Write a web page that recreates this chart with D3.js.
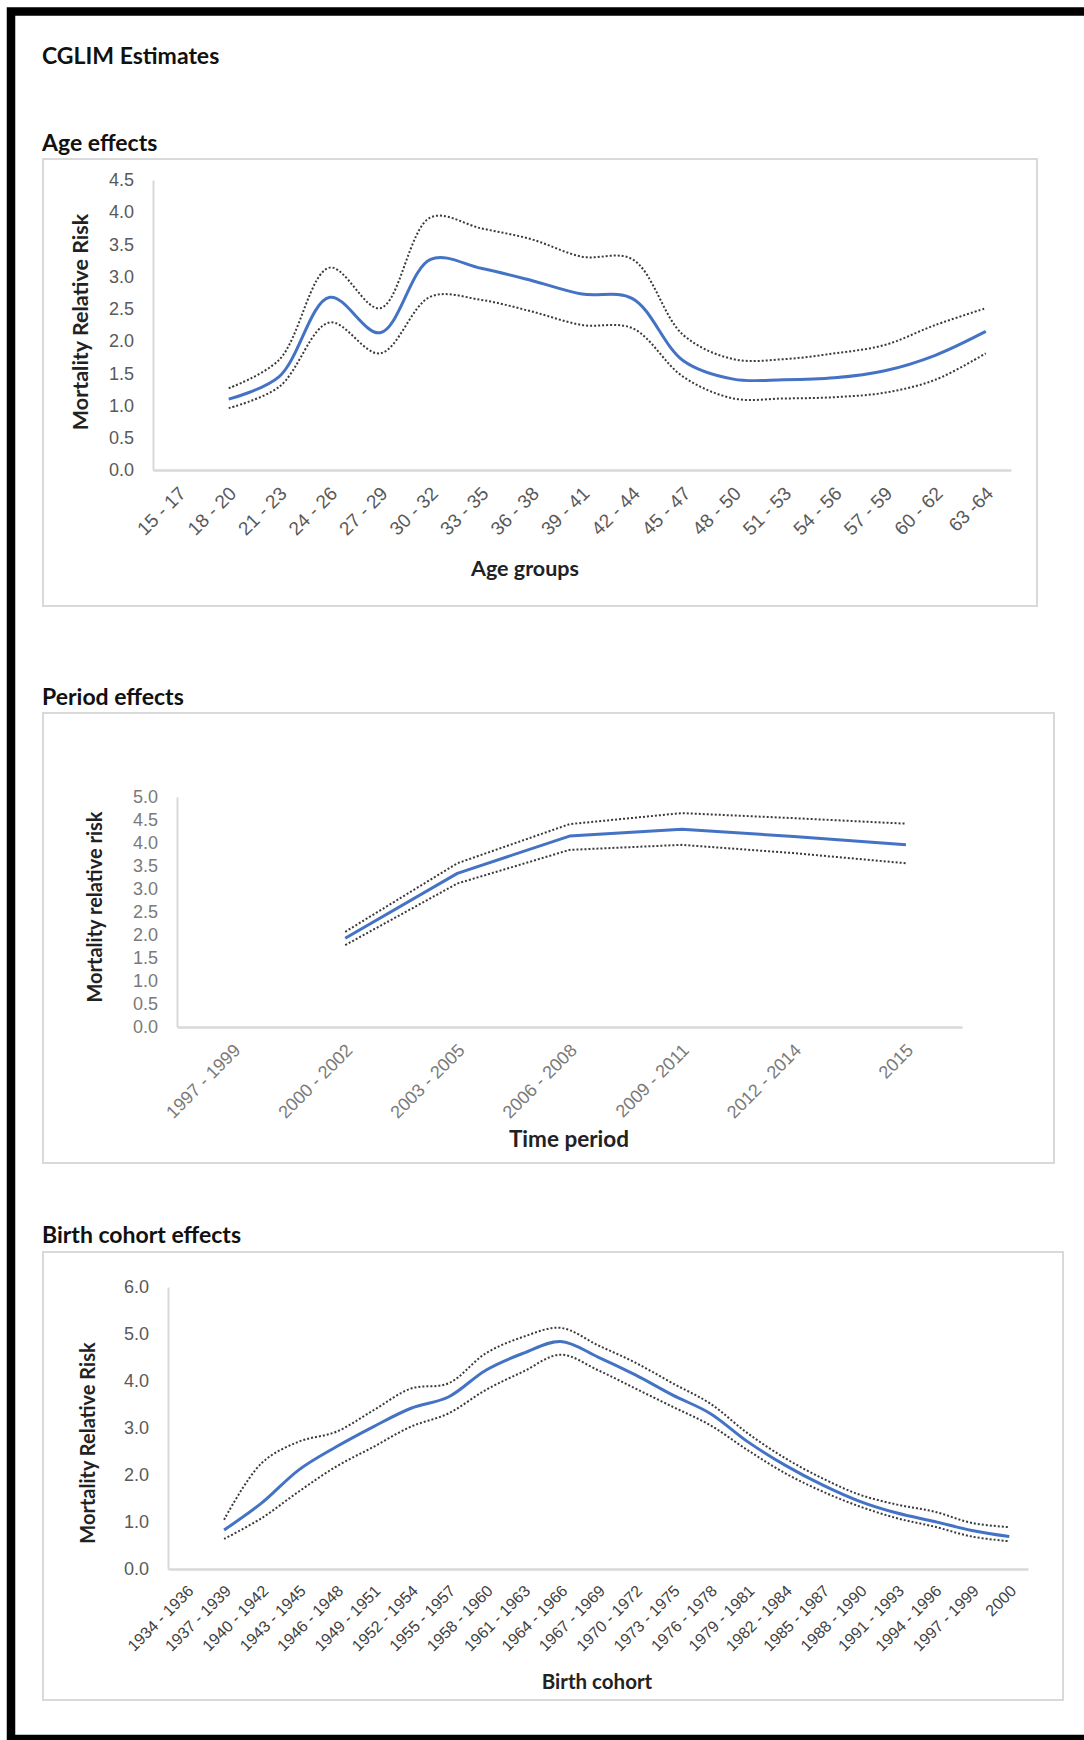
<!DOCTYPE html>
<html>
<head>
<meta charset="utf-8">
<script src="https://cdn.jsdelivr.net/npm/d3@7"></script>
<style>
  body { margin: 0; background: #fff; }
  svg { display: block; font-family: Lato, "Open Sans", sans-serif; }
</style>
</head>
<body>
<svg id="chart" width="1084" height="1740"></svg>
<script>
// ---- Age effects ----
const ageGroups = ["15 - 17","18 - 20","21 - 23","24 - 26","27 - 29","30 - 32","33 - 35","36 - 38",
  "39 - 41","42 - 44","45 - 47","48 - 50","51 - 53","54 - 56","57 - 59","60 - 62","63 -64"];
const ageRR    = [null,1.10,1.45,2.68,2.13,3.27,3.13,2.94,2.73,2.66,1.70,1.41,1.40,1.43,1.54,1.78,2.15];
const ageUpper = [null,1.27,1.71,3.14,2.51,3.92,3.75,3.58,3.31,3.27,2.10,1.72,1.72,1.81,1.94,2.25,2.51];
const ageLower = [null,0.96,1.29,2.29,1.81,2.69,2.64,2.46,2.25,2.20,1.45,1.11,1.11,1.13,1.20,1.40,1.81];
const ageTicks = [0,0.5,1,1.5,2,2.5,3,3.5,4,4.5];

// ---- Period effects ----
const periods = ["1997 - 1999","2000 - 2002","2003 - 2005","2006 - 2008","2009 - 2011","2012 - 2014","2015"];
const periodRR    = [null,1.93,3.34,4.15,4.30,4.14,3.96];
const periodUpper = [null,2.07,3.56,4.41,4.65,4.54,4.42];
const periodLower = [null,1.78,3.12,3.85,3.96,3.78,3.56];
const periodTicks = [0,0.5,1,1.5,2,2.5,3,3.5,4,4.5,5];

// ---- Birth cohort effects ----
const cohorts = ["1934 - 1936","1937 - 1939","1940 - 1942","1943 - 1945","1946 - 1948","1949 - 1951",
  "1952 - 1954","1955 - 1957","1958 - 1960","1961 - 1963","1964 - 1966","1967 - 1969","1970 - 1972",
  "1973 - 1975","1976 - 1978","1979 - 1981","1982 - 1984","1985 - 1987","1988 - 1990","1991 - 1993",
  "1994 - 1996","1997 - 1999","2000"];
const cohortRR    = [null,0.83,1.40,2.11,2.60,3.03,3.42,3.66,4.23,4.59,4.84,4.51,4.13,3.70,3.31,2.71,2.21,1.79,1.44,1.19,1.01,0.82,0.69];
const cohortUpper = [null,1.05,2.25,2.71,2.92,3.38,3.84,3.95,4.59,4.94,5.13,4.76,4.39,3.95,3.52,2.89,2.36,1.93,1.58,1.37,1.22,0.98,0.89];
const cohortLower = [null,0.64,1.08,1.65,2.18,2.60,3.03,3.31,3.81,4.20,4.56,4.23,3.84,3.45,3.06,2.53,2.04,1.65,1.33,1.08,0.90,0.69,0.59];
const cohortTicks = [0,1,2,3,4,5,6];

const svg = d3.select("#chart");
const AXIS = "#d9d9d9", TICK = "#595959", BLUE = "#4472c4", CI = "#3a3a3a";

// page frame
svg.append("rect")
  .attr("x", 11).attr("y", 11.5).attr("width", 1200).attr("height", 1727.5)
  .attr("fill", "none").attr("stroke", "#000").attr("stroke-width", 8.5);

svg.append("text")
  .attr("x", 42).attr("y", 64)
  .attr("font-size", 23).attr("font-weight", 700).attr("fill", "#111")
  .text("CGLIM Estimates");

function panel(o) {
  const g = svg.append("g");

  g.append("text")
    .attr("x", 42).attr("y", o.titleY)
    .attr("font-size", 23).attr("font-weight", 700).attr("fill", "#111")
    .text(o.title);

  g.append("rect")
    .attr("x", o.box[0]).attr("y", o.box[1]).attr("width", o.box[2]).attr("height", o.box[3])
    .attr("fill", "#fff").attr("stroke", AXIS).attr("stroke-width", 2);

  const x = d3.scaleBand().domain(o.cats).range([o.x0, o.x1]).padding(0);
  const y = d3.scaleLinear().domain([0, o.yMax]).range([o.yBottom, o.yTop]);
  const cx = c => x(c) + x.bandwidth() / 2;

  // y axis
  const ya = g.append("g").attr("transform", `translate(${o.x0},0)`)
    .call(d3.axisLeft(y).tickValues(o.ticks).tickFormat(d3.format(".1f")).tickSize(0).tickPadding(19));
  ya.select(".domain").attr("stroke", AXIS).attr("stroke-width", 2);
  ya.selectAll("text").attr("fill", o.yColor).attr("font-size", o.yFont).attr("font-family", null);

  // x axis
  const xa = g.append("g").attr("transform", `translate(0,${o.yBottom})`)
    .call(d3.axisBottom(x).tickSize(0).tickPadding(0));
  xa.select(".domain").attr("stroke", AXIS).attr("stroke-width", 2.5);
  xa.selectAll("text")
    .attr("fill", o.xColor).attr("font-size", o.xFont).attr("font-family", null)
    .attr("text-anchor", "end").attr("y", 0).attr("dy", "0.35em")
    .attr("transform", `translate(4,${o.xLabelDrop}) rotate(-45)`);

  // axis titles
  g.append("text")
    .attr("x", o.xTitle[0]).attr("y", o.xTitle[1]).attr("text-anchor", "middle")
    .attr("font-size", o.xTitleFont).attr("font-weight", 700).attr("fill", "#222")
    .text(o.xLabel);
  g.append("text")
    .attr("transform", `translate(${o.yTitle[0]},${o.yTitle[1]}) rotate(-90)`)
    .attr("text-anchor", "middle").attr("dy", "0.35em")
    .attr("font-size", o.yTitleFont).attr("font-weight", 700).attr("fill", "#222")
    .text(o.yLabel);

  const line = d3.line()
    .defined(d => d[1] != null)
    .x(d => cx(d[0])).y(d => y(d[1]))
    .curve(o.curve);
  const pairs = arr => o.cats.map((c, i) => [c, arr[i]]);

  g.append("path").datum(pairs(o.upper)).attr("d", line)
    .attr("fill", "none").attr("stroke", CI).attr("stroke-width", 2).attr("stroke-dasharray", "2,2");
  g.append("path").datum(pairs(o.lower)).attr("d", line)
    .attr("fill", "none").attr("stroke", CI).attr("stroke-width", 2).attr("stroke-dasharray", "2,2");
  g.append("path").datum(pairs(o.values)).attr("d", line)
    .attr("fill", "none").attr("stroke", BLUE).attr("stroke-width", 3).attr("stroke-linejoin", "round");
}

panel({
  title: "Age effects", titleY: 151,
  box: [43, 159, 994, 447],
  cats: ageGroups, values: ageRR, upper: ageUpper, lower: ageLower, ticks: ageTicks, yMax: 4.5,
  x0: 153, x1: 1011, yTop: 180, yBottom: 470,
  yFont: 18, yColor: TICK, xFont: 19, xColor: TICK, xLabelDrop: 20,
  xTitleFont: 21.5, yTitleFont: 21.5,
  xLabel: "Age groups", xTitle: [525, 576],
  yLabel: "Mortality Relative Risk", yTitle: [80, 322],
  curve: d3.curveCatmullRom.alpha(0.5)
});

panel({
  title: "Period effects", titleY: 705,
  box: [43, 713, 1011, 450],
  cats: periods, values: periodRR, upper: periodUpper, lower: periodLower, ticks: periodTicks, yMax: 5,
  x0: 177, x1: 962, yTop: 797, yBottom: 1027,
  yFont: 18, yColor: "#7a7a7a", xFont: 18, xColor: "#7a7a7a", xLabelDrop: 20,
  xTitleFont: 22.5, yTitleFont: 20,
  xLabel: "Time period", xTitle: [569, 1147],
  yLabel: "Mortality relative risk", yTitle: [95, 907],
  curve: d3.curveLinear
});

panel({
  title: "Birth cohort effects", titleY: 1243,
  box: [43, 1252, 1020, 448],
  cats: cohorts, values: cohortRR, upper: cohortUpper, lower: cohortLower, ticks: cohortTicks, yMax: 6,
  x0: 168, x1: 1028, yTop: 1287, yBottom: 1569,
  yFont: 18, yColor: TICK, xFont: 16, xColor: "#404040", xLabelDrop: 19,
  xTitleFont: 20.5, yTitleFont: 20,
  xLabel: "Birth cohort", xTitle: [597, 1689],
  yLabel: "Mortality Relative Risk", yTitle: [88, 1443],
  curve: d3.curveCatmullRom.alpha(0.5)
});
</script>
</body>
</html>
